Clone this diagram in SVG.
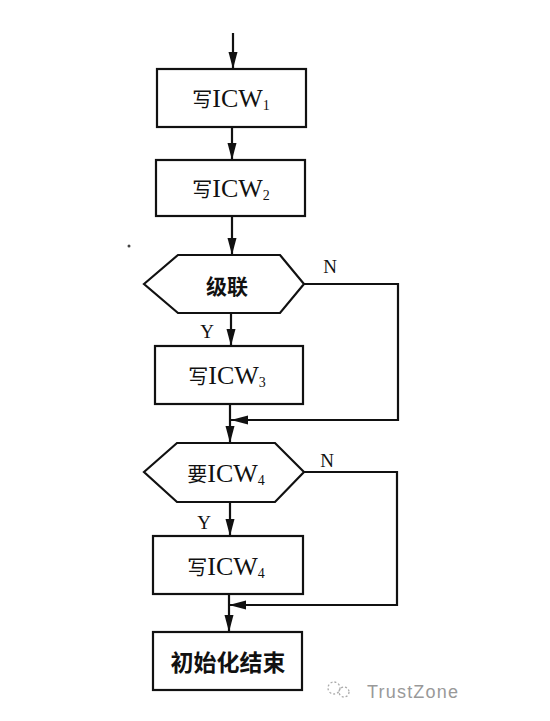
<svg xmlns="http://www.w3.org/2000/svg" width="550" height="721" viewBox="0 0 550 721">
<style>
.box{fill:#fff;stroke:#111;stroke-width:2.2}
.ln{fill:none;stroke:#111;stroke-width:2.2}
.t{font-family:"Liberation Serif","Noto Sans CJK SC",serif;font-size:26px;fill:#111;text-anchor:middle}
.cn{font-family:"Noto Sans CJK SC",sans-serif;font-size:20px}
.sub{font-size:14px}
.b{font-family:"Noto Sans CJK SC",sans-serif;font-weight:bold;fill:#111;text-anchor:middle}
.yn{font-family:"Liberation Serif",serif;font-size:19px;fill:#111;text-anchor:middle}
</style>
<defs>
<marker id="ah" markerWidth="18" markerHeight="10" refX="17" refY="5" orient="auto" markerUnits="userSpaceOnUse">
<path d="M0,0.5 L17,5 L0,9.5 Z" fill="#111"/>
</marker>
</defs>
<rect width="550" height="721" fill="#fff"/>
<g id="connectors">
<path class="ln" d="M233,33 V69" marker-end="url(#ah)"/>
<path class="ln" d="M232,127 V160" marker-end="url(#ah)"/>
<path class="ln" d="M232,216 V255" marker-end="url(#ah)"/>
<path class="ln" d="M231,313 V346" marker-end="url(#ah)"/>
<path class="ln" d="M230,404 V443" marker-end="url(#ah)"/>
<path class="ln" d="M304,284 H398 V420 H231" marker-end="url(#ah)"/>
<path class="ln" d="M230,502 V536" marker-end="url(#ah)"/>
<path class="ln" d="M229,594 V632" marker-end="url(#ah)"/>
<path class="ln" d="M304,472 H397 V605 H229" marker-end="url(#ah)"/>
<text class="yn" x="207" y="338">Y</text>
<text class="yn" x="330" y="273">N</text>
<text class="yn" x="204" y="529">Y</text>
<text class="yn" x="327" y="467">N</text>
</g>
<g id="n1">
<rect class="box" x="157" y="69" width="149" height="58"/>
<text class="t" x="231" y="107"><tspan class="cn">写</tspan>ICW<tspan class="sub" dy="3">1</tspan></text>
</g>
<g id="n2">
<rect class="box" x="156" y="160" width="149" height="56"/>
<text class="t" x="231" y="197"><tspan class="cn">写</tspan>ICW<tspan class="sub" dy="3">2</tspan></text>
</g>
<g id="d1">
<polygon class="box" points="144,284 178,255 280,255 304,284 280,313 178,313"/>
<text class="b" x="227" y="294" font-size="21">级联</text>
</g>
<g id="n3">
<rect class="box" x="155" y="346" width="148" height="58"/>
<text class="t" x="227" y="384"><tspan class="cn">写</tspan>ICW<tspan class="sub" dy="3">3</tspan></text>
</g>
<g id="d2">
<polygon class="box" points="144,472 177,443 275,443 304,472 275,502 177,502"/>
<text class="t" x="226" y="482"><tspan class="cn">要</tspan>ICW<tspan class="sub" dy="3">4</tspan></text>
</g>
<g id="n4">
<rect class="box" x="153" y="536" width="150" height="58"/>
<text class="t" x="226" y="575"><tspan class="cn">写</tspan>ICW<tspan class="sub" dy="3">4</tspan></text>
</g>
<g id="n5">
<rect class="box" x="153" y="632" width="149" height="58"/>
<text class="b" x="228" y="671" font-size="23">初始化结束</text>
</g>
<circle cx="129" cy="246" r="1.5" fill="#444"/>
<g id="watermark" fill="none" stroke="#aaa" stroke-width="1.3" stroke-dasharray="2 2">
<circle cx="334" cy="688" r="6"/>
<circle cx="344" cy="692" r="5"/>
</g>
<text x="367" y="698" font-family="Liberation Sans,sans-serif" font-size="18" fill="#999" textLength="91">TrustZone</text>
</svg>
